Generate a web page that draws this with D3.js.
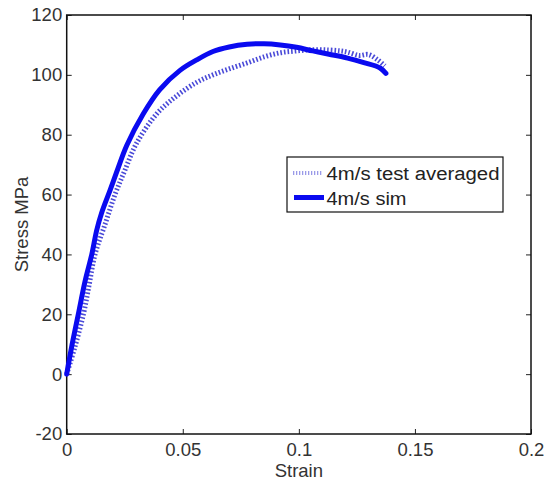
<!DOCTYPE html>
<html><head><meta charset="utf-8">
<script src="https://cdn.jsdelivr.net/npm/d3@7"></script>
<style>body{margin:0;background:#fff}svg{display:block}text{font-family:"Liberation Sans",Arial,sans-serif}</style>
</head><body>
<script>
const xTicks=[0,0.05,0.1,0.15,0.2];
const yTicks=[-20,0,20,40,60,80,100,120];
const seriesNames=["4m/s test averaged","4m/s sim"];
const simStrain=[0,0.0021,0.005,0.0079,0.0108,0.0129,0.0151,0.0187,0.0215,0.0259,0.033,0.040,0.0488,0.056,0.063,0.070,0.0777,0.085,0.092,0.099,0.106,0.113,0.121,0.128,0.135,0.1375];
const simStress=[0,9,20,31,40,48,54,61.5,67.5,76.5,87,95,101.5,105,107.8,109.3,110.2,110.4,110,109.2,108,106.9,105.6,104.1,102.3,100.5];
const testStrain=[0,0.0035,0.0072,0.0097,0.0122,0.0165,0.0208,0.025,0.030,0.0388,0.0474,0.056,0.063,0.070,0.0777,0.085,0.092,0.099,0.106,0.113,0.118,0.121,0.126,0.130,0.134,0.137];
const testStress=[0,9,20,30,40,50,60,68,77,87,93,97.5,100,102,104,106,107.4,108,108.4,108.3,108,107.6,106.5,106.8,105,103];

const W=554,H=482,m={l:66.7,r:23,t:15,b:48};
const FS=18.5;
const svg=d3.select("body").append("svg").attr("width",W).attr("height",H);
const x=d3.scaleLinear().domain([0,0.2]).range([m.l,W-m.r]);
const y=d3.scaleLinear().domain([-20,120]).range([H-m.b,m.t]);
const line=d3.line().x(d=>x(d[0])).y(d=>y(d[1])).curve(d3.curveCatmullRom.alpha(0.5));
const tick=5;
const fmt=d=>String(d);
const gB=svg.append("g").attr("transform",`translate(0,${y(-20)})`).call(d3.axisBottom(x).tickValues(xTicks).tickFormat(fmt).tickSizeInner(-tick).tickSizeOuter(0).tickPadding(8.5));
const gT=svg.append("g").attr("transform",`translate(0,${y(120)})`).call(d3.axisTop(x).tickValues(xTicks).tickFormat("").tickSizeInner(-tick).tickSizeOuter(0));
const gL=svg.append("g").attr("transform",`translate(${x(0)},0)`).call(d3.axisLeft(y).tickValues(yTicks).tickFormat(fmt).tickSizeInner(-tick).tickSizeOuter(0).tickPadding(4.5));
const gR=svg.append("g").attr("transform",`translate(${x(0.2)},0)`).call(d3.axisRight(y).tickValues(yTicks).tickFormat("").tickSizeInner(-tick).tickSizeOuter(0));
[gB,gT,gL,gR].forEach(g=>{g.select(".domain").remove();g.selectAll("line").attr("stroke","#222").attr("stroke-width",1);g.selectAll("text").attr("font-size",FS).attr("fill","#333").attr("font-family","Liberation Sans, Arial, sans-serif");});
svg.append("rect").attr("x",x(0)).attr("y",y(120)).attr("width",x(0.2)-x(0)).attr("height",y(-20)-y(120)).attr("fill","none").attr("stroke","#111").attr("stroke-width",1.5);

const testData=testStrain.map((s,i)=>[s,testStress[i]]);
const simData=simStrain.map((s,i)=>[s,simStress[i]]);
svg.append("path").datum(testData).attr("d",line).attr("fill","none").attr("stroke","#4a4ad8").attr("stroke-width",5).attr("stroke-dasharray","1.6,2");
svg.append("path").datum(simData).attr("d",line).attr("fill","none").attr("stroke","#0a0af0").attr("stroke-width",5).attr("stroke-linejoin","round").attr("stroke-linecap","round");

svg.append("text").attr("x",(x(0)+x(0.2))/2).attr("y",477).attr("text-anchor","middle").attr("font-size",FS).attr("fill","#333").text("Strain");
svg.append("text").attr("transform",`translate(28,${(y(-20)+y(120))/2}) rotate(-90)`).attr("text-anchor","middle").attr("font-size",FS).attr("fill","#333").text("Stress MPa");

const lg=svg.append("g");
lg.append("rect").attr("x",287).attr("y",157).attr("width",216).attr("height",55).attr("fill","#fff").attr("stroke","#111").attr("stroke-width",1.2);
lg.append("line").attr("x1",293).attr("x2",323).attr("y1",173).attr("y2",173).attr("stroke","#9a9ae8").attr("stroke-width",4).attr("stroke-dasharray","1.3,1.7");
lg.append("line").attr("x1",294).attr("x2",324).attr("y1",197.5).attr("y2",197.5).attr("stroke","#0a0af0").attr("stroke-width",5);
lg.append("text").attr("x",326.5).attr("y",180).attr("font-size",18).attr("textLength",173).attr("lengthAdjust","spacingAndGlyphs").attr("fill","#222").text(seriesNames[0]);
lg.append("text").attr("x",326.5).attr("y",205).attr("font-size",18).attr("textLength",80).attr("lengthAdjust","spacingAndGlyphs").attr("fill","#222").text(seriesNames[1]);
</script>
</body></html>
